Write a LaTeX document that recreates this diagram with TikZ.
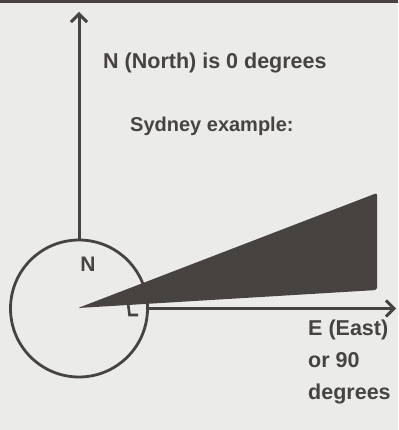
\documentclass[tikz,border=0pt]{standalone}
\usepackage{fontspec}
\setmainfont{Liberation Sans}
\usetikzlibrary{arrows.meta, positioning}
\definecolor{ink}{HTML}{474341}
\definecolor{paper}{HTML}{EBEBEA}

\begin{document}
\begin{tikzpicture}[
    x=1pt, y=-1pt,
    lbl/.style={text=ink, font=\bfseries\fontsize{21.5}{32}\selectfont, inner sep=0pt, anchor=base west, align=left},
    arr/.style={draw=ink, line width=3pt, -{Straight Barb[length=8pt, width=16pt, line width=3pt]}},
  ]
    % paper and top rule
    \fill[paper] (0,0) rectangle (398,430);
    \fill[ink] (0,0) rectangle (398,3);

    \node[circle, draw=ink, line width=2.8pt, minimum size=137pt, inner sep=0pt] (compass) at (79,308.5) {};
    \node[lbl, anchor=center, font=\bfseries\fontsize{21}{24}\selectfont] (nmark) at (88,264) {N};
    \coordinate (ntip) at (79,12);
    \coordinate (etip) at (396,308.5);

    % Sydney wedge
    \fill[ink, rounded corners=2pt] (78,308) -- (377,193) -- (377,290) -- cycle;
    \draw[ink, line width=2.6pt] (128,303) -- (129.5,315) -- (138,315);

    \draw[arr] (compass.north) -- (ntip);
    \draw[arr] (compass.east) -- (etip);

    \node[lbl] (north) at (103,69) {N (North) is 0 degrees};
    \node[lbl, font=\bfseries\fontsize{20}{32}\selectfont] (sydney) at (130,132) {Sydney example:};
    \node[lbl, anchor=north west] (east) at (308,320) {E (East)\\or 90\\degrees};
  \end{tikzpicture}
\end{document}
